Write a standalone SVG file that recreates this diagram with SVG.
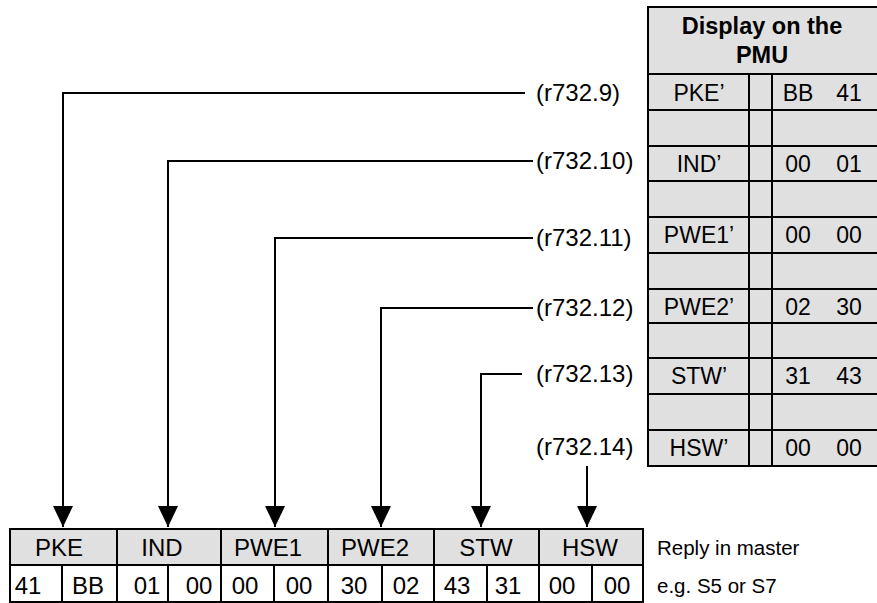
<svg xmlns="http://www.w3.org/2000/svg" width="877" height="603" viewBox="0 0 877 603">
<style>
text{font-family:"Liberation Sans",Arial,sans-serif;font-size:23px;fill:#000}
.b{font-weight:bold;font-size:23.5px}
.m{text-anchor:middle}
.lb{font-size:24px}
.bt{font-size:24px}
.nt{font-size:20.5px}
.cell{fill:#e0e0e0;stroke:#000;stroke-width:2}
.wc{fill:#fff;stroke:#000;stroke-width:2}
.ln{stroke:#000;stroke-width:2;fill:none}
.con{stroke:#000;stroke-width:2;fill:none}
</style>
<defs>
<marker id="ah" markerUnits="userSpaceOnUse" markerWidth="22" markerHeight="20" refX="21" refY="10" orient="auto" viewBox="0 0 22 20">
<path d="M0,0 L21,10 L0,20 Z" fill="#000"/>
</marker>
</defs>
<rect width="877" height="603" fill="#fff"/>

<g id="pmu-table">
<rect class="cell" x="648" y="7" width="240" height="459"/>
<line class="ln" x1="648" y1="74" x2="880" y2="74"/>
<line class="ln" x1="648" y1="110" x2="880" y2="110"/>
<line class="ln" x1="648" y1="146" x2="880" y2="146"/>
<line class="ln" x1="648" y1="181" x2="880" y2="181"/>
<line class="ln" x1="648" y1="217" x2="880" y2="217"/>
<line class="ln" x1="648" y1="253" x2="880" y2="253"/>
<line class="ln" x1="648" y1="289" x2="880" y2="289"/>
<line class="ln" x1="648" y1="323" x2="880" y2="323"/>
<line class="ln" x1="648" y1="358" x2="880" y2="358"/>
<line class="ln" x1="648" y1="394" x2="880" y2="394"/>
<line class="ln" x1="648" y1="430" x2="880" y2="430"/>
<line class="ln" x1="749" y1="74" x2="749" y2="466"/>
<line class="ln" x1="772" y1="74" x2="772" y2="466"/>
<text class="b m" x="762" y="34">Display on the</text>
<text class="b m" x="762" y="63">PMU</text>
<text class="m" x="699" y="101">PKE’</text>
<text class="m" x="798" y="101">BB</text><text class="m" x="849" y="101">41</text>
<text class="m" x="699" y="172">IND’</text>
<text class="m" x="798" y="172">00</text><text class="m" x="849" y="172">01</text>
<text class="m" x="699" y="243">PWE1’</text>
<text class="m" x="798" y="243">00</text><text class="m" x="849" y="243">00</text>
<text class="m" x="699" y="315">PWE2’</text>
<text class="m" x="798" y="315">02</text><text class="m" x="849" y="315">30</text>
<text class="m" x="699" y="384">STW’</text>
<text class="m" x="798" y="384">31</text><text class="m" x="849" y="384">43</text>
<text class="m" x="699" y="456">HSW’</text>
<text class="m" x="798" y="456">00</text><text class="m" x="849" y="456">00</text>
</g>

<g id="labels">
<text class="lb" x="536" y="101">(r732.9)</text>
<text class="lb" x="536" y="169">(r732.10)</text>
<text class="lb" x="536" y="246">(r732.11)</text>
<text class="lb" x="536" y="316">(r732.12)</text>
<text class="lb" x="536" y="382">(r732.13)</text>
<text class="lb" x="536" y="455">(r732.14)</text>
</g>

<g id="connectors">
<path class="con" d="M525,93 H63 V527" marker-end="url(#ah)"/>
<path class="con" d="M533,161 H168 V527" marker-end="url(#ah)"/>
<path class="con" d="M533,238 H275 V527" marker-end="url(#ah)"/>
<path class="con" d="M533,308 H381 V527" marker-end="url(#ah)"/>
<path class="con" d="M522,374 H481 V527" marker-end="url(#ah)"/>
<path class="con" d="M587,466 V527" marker-end="url(#ah)"/>
</g>

<g id="master-table">
<rect class="cell" x="10" y="529" width="633" height="36"/>
<rect class="wc" x="10" y="565" width="633" height="37"/>
<line class="ln" x1="117" y1="529" x2="117" y2="602"/>
<line class="ln" x1="221" y1="529" x2="221" y2="602"/>
<line class="ln" x1="328" y1="529" x2="328" y2="602"/>
<line class="ln" x1="434" y1="529" x2="434" y2="602"/>
<line class="ln" x1="539" y1="529" x2="539" y2="602"/>
<line class="ln" x1="62" y1="565" x2="62" y2="602"/>
<line class="ln" x1="168" y1="565" x2="168" y2="602"/>
<line class="ln" x1="274" y1="565" x2="274" y2="602"/>
<line class="ln" x1="382" y1="565" x2="382" y2="602"/>
<line class="ln" x1="487" y1="565" x2="487" y2="602"/>
<line class="ln" x1="592" y1="565" x2="592" y2="602"/>
<text class="m bt" x="59" y="556">PKE</text>
<text class="m bt" x="162" y="556">IND</text>
<text class="m bt" x="268" y="556">PWE1</text>
<text class="m bt" x="375" y="556">PWE2</text>
<text class="m bt" x="486" y="556">STW</text>
<text class="m bt" x="590" y="556">HSW</text>
<text class="m bt" x="28" y="594">41</text>
<text class="m bt" x="88" y="594">BB</text>
<text class="m bt" x="147" y="594">01</text>
<text class="m bt" x="199" y="594">00</text>
<text class="m bt" x="245" y="594">00</text>
<text class="m bt" x="299" y="594">00</text>
<text class="m bt" x="354" y="594">30</text>
<text class="m bt" x="406" y="594">02</text>
<text class="m bt" x="457" y="594">43</text>
<text class="m bt" x="508" y="594">31</text>
<text class="m bt" x="562" y="594">00</text>
<text class="m bt" x="617" y="594">00</text>
</g>

<g id="note">
<text class="nt" x="657" y="555">Reply in master</text>
<text class="nt" x="657" y="593">e.g. S5 or S7</text>
</g>
</svg>
